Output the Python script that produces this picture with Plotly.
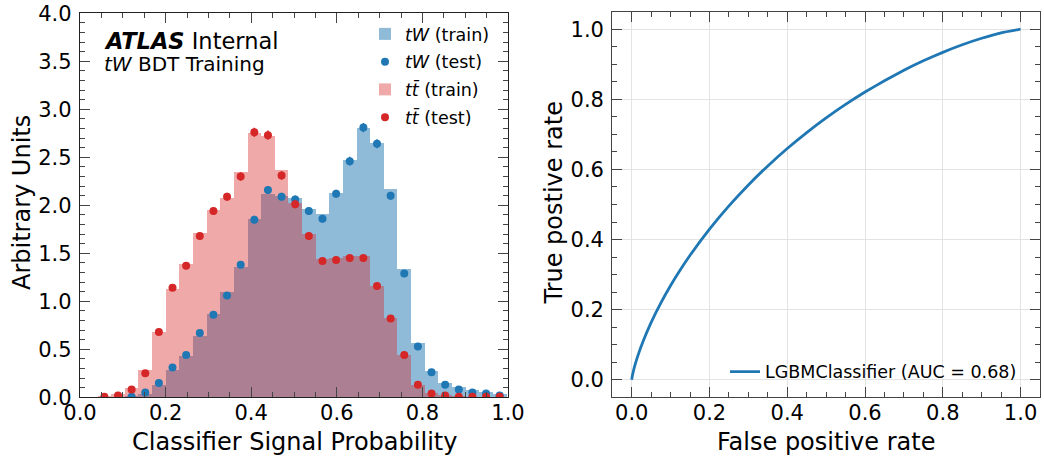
import plotly.graph_objects as go

# ---------------- data ----------------
bin_start = 0.041
bin_width = 0.03185
n_bins = 30
bin_centers = [bin_start + bin_width * (i + 0.5) for i in range(n_bins)]

tw_train = [0.0, 0.0, 0.01, 0.03, 0.12, 0.28, 0.43, 0.64, 0.86, 1.09, 1.35, 1.85, 2.11, 2.09,
            2.07, 1.96, 1.91, 2.12, 2.47, 2.80, 2.65, 2.17, 1.33, 0.56, 0.27, 0.15, 0.10, 0.07,
            0.05, 0.035]
tw_test = [None, None, 0.007, 0.05, 0.15, 0.31, 0.44, 0.67, 0.86, 1.06, 1.38, 1.85, 2.16, 2.09,
           2.06, 1.94, 1.86, 2.12, 2.46, 2.81, 2.64, 2.10, 1.29, 0.53, 0.26, 0.13, 0.08, 0.05,
           0.04, 0.02]
tw_test_err = [0.0, 0.0, 0.003, 0.008, 0.012, 0.018, 0.02, 0.025, 0.028, 0.03, 0.035, 0.04, 0.042,
               0.042, 0.041, 0.04, 0.04, 0.042, 0.045, 0.048, 0.047, 0.042, 0.033, 0.022, 0.015,
               0.011, 0.009, 0.007, 0.006, 0.005]

tt_train = [0.01, 0.03, 0.09, 0.28, 0.68, 1.13, 1.39, 1.71, 1.95, 2.07, 2.34, 2.75, 2.72, 2.36,
            2.02, 1.70, 1.44, 1.45, 1.47, 1.47, 1.16, 0.82, 0.44, 0.12, 0.04, 0.02, 0.008, 0.005,
            0.004, 0.003]
tt_test = [0.007, 0.02, 0.08, 0.25, 0.68, 1.14, 1.37, 1.68, 1.94, 2.09, 2.30, 2.76, 2.73, 2.31,
           2.01, 1.68, 1.42, 1.43, 1.45, 1.45, 1.16, 0.82, 0.44, 0.13, 0.04, 0.02, 0.007, 0.005,
           0.005, 0.005]
tt_test_err = [0.003, 0.005, 0.009, 0.016, 0.025, 0.032, 0.035, 0.038, 0.04, 0.042, 0.045, 0.048,
               0.048, 0.045, 0.042, 0.038, 0.035, 0.035, 0.036, 0.036, 0.032, 0.027, 0.02, 0.011,
               0.006, 0.004, 0.003, 0.002, 0.002, 0.002]

roc_fpr = [0.0, 0.001, 0.003, 0.007, 0.015, 0.03, 0.05, 0.075, 0.1, 0.125, 0.15, 0.2, 0.25,
           0.3, 0.35, 0.4, 0.45, 0.5, 0.55, 0.6, 0.65, 0.7, 0.75, 0.8, 0.85, 0.9, 0.95, 1.0]
roc_tpr = [0.0, 0.0077, 0.0186, 0.0366, 0.0662, 0.112, 0.1636, 0.2192, 0.2687, 0.3137,
           0.3552, 0.4299, 0.4962, 0.5559, 0.6101, 0.6597, 0.7052, 0.747, 0.7854, 0.8208,
           0.8532, 0.8829, 0.9098, 0.934, 0.9556, 0.9742, 0.9896, 1.0]

hist_x_ticks = [0.0, 0.2, 0.4, 0.6, 0.8, 1.0]
hist_y_ticks = [0.0, 0.5, 1.0, 1.5, 2.0, 2.5, 3.0, 3.5, 4.0]
roc_ticks = [0.0, 0.2, 0.4, 0.6, 0.8, 1.0]

# ---------------- styles ----------------
W, H = 1044, 459
FONT = "DejaVu Sans"
BLUE = "#1f77b4"
RED = "#d62728"


def px_x(p):
    return p / W


def px_y(p):
    return 1 - p / H


fig = go.Figure()

fig.add_trace(go.Bar(
    x=bin_centers, y=tw_train, width=bin_width, name="<i>tW</i> (train)",
    marker=dict(color="rgba(31,119,180,0.5)", line=dict(width=0)),
    legendgroup="a", xaxis="x", yaxis="y", legend="legend"))
fig.add_trace(go.Scatter(
    x=bin_centers, y=tw_test, mode="markers", name="<i>tW</i> (test)",
    marker=dict(color=BLUE, size=8),
    error_y=dict(type="data", array=tw_test_err, color=BLUE, thickness=1.5, width=0),
    legendgroup="b", xaxis="x", yaxis="y", legend="legend"))
fig.add_trace(go.Bar(
    x=bin_centers, y=tt_train, width=bin_width, name="<i>tt̄</i> (train)",
    marker=dict(color="rgba(214,39,40,0.4)", line=dict(width=0)),
    legendgroup="c", xaxis="x", yaxis="y", legend="legend"))
fig.add_trace(go.Scatter(
    x=bin_centers, y=tt_test, mode="markers", name="<i>tt̄</i> (test)",
    marker=dict(color=RED, size=8),
    error_y=dict(type="data", array=tt_test_err, color=RED, thickness=1.5, width=0),
    legendgroup="d", xaxis="x", yaxis="y", legend="legend"))

fig.add_trace(go.Scatter(
    x=roc_fpr, y=roc_tpr, mode="lines", name="LGBMClassifier (AUC = 0.68)",
    line=dict(color=BLUE, width=2.8, shape="spline", smoothing=0.4),
    xaxis="x2", yaxis="y2", legend="legend2"))

tick_font = dict(family=FONT, size=21, color="black")
common_axis = dict(
    showline=True, mirror="allticks", ticks="inside", ticklen=10, tickwidth=1.2,
    tickfont=tick_font, zeroline=False, tickformat=".1f", automargin=False,
)

fig.update_layout(
    width=W, height=H,
    margin=dict(l=0, r=0, t=0, b=0, autoexpand=False),
    paper_bgcolor="white", plot_bgcolor="white",
    font=dict(family=FONT, color="black"),
    barmode="overlay", bargap=0,
    xaxis=dict(domain=[px_x(80), px_x(508)], range=[0, 1], tickvals=hist_x_ticks,
               linecolor="#222", linewidth=1.3, showgrid=False, anchor="y",
               ticklabelstandoff=-4,
               minor=dict(dtick=0.05, tick0=0, ticks="inside", ticklen=5, tickwidth=1,
                          showgrid=False),
               **common_axis),
    yaxis=dict(domain=[px_y(397.3), px_y(13.3)], range=[0, 4], tickvals=hist_y_ticks,
               linecolor="#222", linewidth=1.3, showgrid=False, anchor="x",
               ticklabelstandoff=3,
               minor=dict(dtick=0.1, tick0=0, ticks="inside", ticklen=5, tickwidth=1,
                          showgrid=False),
               **common_axis),
    xaxis2=dict(domain=[px_x(612.3), px_x(1040)], range=[-0.05, 1.05], tickvals=roc_ticks,
                linecolor="#444", linewidth=1.3, showgrid=True, gridcolor="#e3e3e3",
                gridwidth=1, anchor="y2", ticklabelstandoff=-4,
                minor=dict(dtick=0.05, tick0=0, ticks="inside", ticklen=5, tickwidth=1,
                           showgrid=False),
                **common_axis),
    yaxis2=dict(domain=[px_y(397.3), px_y(11.7)], range=[-0.05, 1.05], tickvals=roc_ticks,
                linecolor="#444", linewidth=1.3, showgrid=True, gridcolor="#e3e3e3",
                gridwidth=1, anchor="x2", ticklabelstandoff=3,
                minor=dict(dtick=0.05, tick0=0, ticks="inside", ticklen=5, tickwidth=1,
                           showgrid=False),
                **common_axis),
    legend=dict(x=px_x(365), y=px_y(16), xanchor="left", yanchor="top",
                bgcolor="rgba(0,0,0,0)", borderwidth=0, tracegroupgap=2,
                font=dict(family=FONT, size=17.5, color="black")),
    legend2=dict(x=px_x(725), y=px_y(371.7), xanchor="left", yanchor="middle",
                 bgcolor="rgba(0,0,0,0)", borderwidth=0,
                 font=dict(family=FONT, size=17.5, color="black")),
)

annotations = [
    dict(text="<b><i>ATLAS</i></b> Internal", x=px_x(101.7), y=px_y(41), xanchor="left",
         yanchor="middle", font=dict(family=FONT, size=22.5, color="black")),
    dict(text="<i>tW</i> BDT Training", x=px_x(101.7), y=px_y(64), xanchor="left",
         yanchor="middle", font=dict(family=FONT, size=20, color="black")),
    dict(text="Classifier Signal Probability", x=px_x(294), y=px_y(442), xanchor="center",
         yanchor="middle", font=dict(family=FONT, size=24, color="black")),
    dict(text="Arbitrary Units", x=px_x(22), y=px_y(203), xanchor="center", yanchor="middle",
         textangle=-90, font=dict(family=FONT, size=24, color="black")),
    dict(text="False positive rate", x=px_x(826), y=px_y(442), xanchor="center",
         yanchor="middle", font=dict(family=FONT, size=24, color="black")),
    dict(text="True postive rate", x=px_x(553), y=px_y(203.5), xanchor="center",
         yanchor="middle", textangle=-90, font=dict(family=FONT, size=24, color="black")),
]
for a in annotations:
    a.update(xref="paper", yref="paper", showarrow=False)
fig.update_layout(annotations=annotations)

fig.write_html("out.html")
